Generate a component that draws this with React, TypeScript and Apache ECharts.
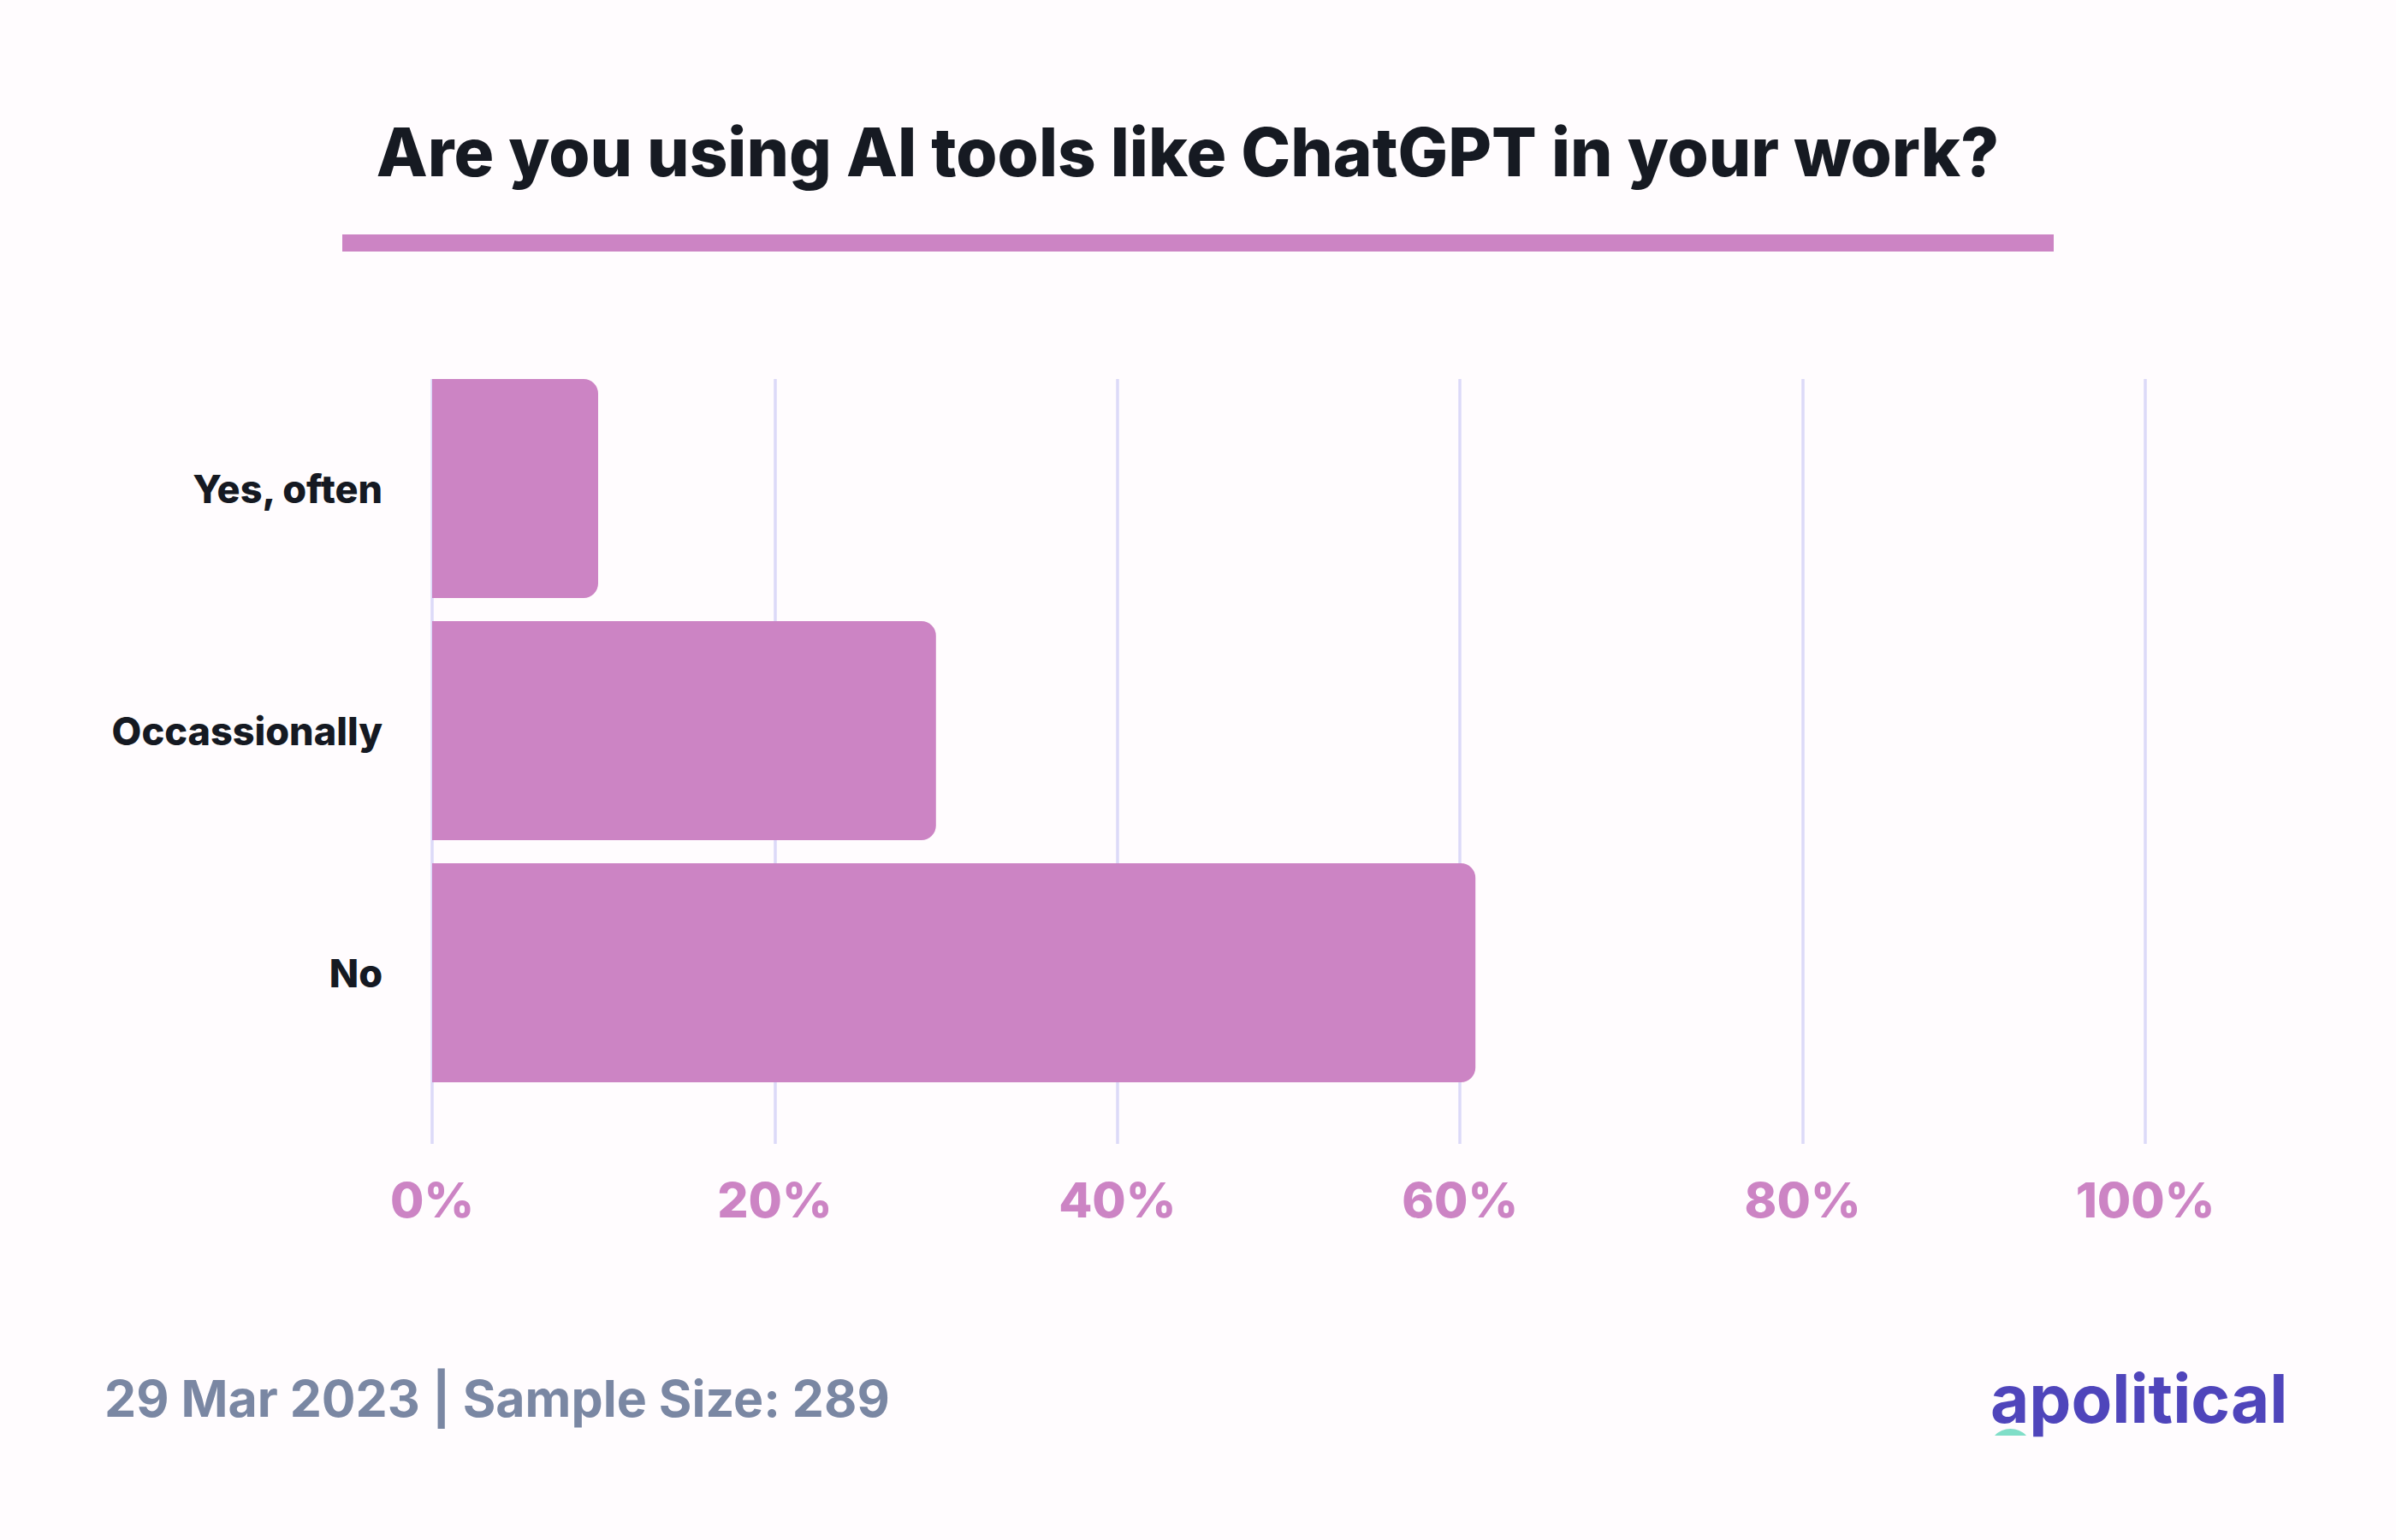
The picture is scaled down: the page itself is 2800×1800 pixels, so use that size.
import React, { useEffect, useRef } from "react";
import * as echarts from "echarts";

const categories = ["Yes, often", "Occassionally", "No"];
const shares = [9.69, 29.41, 60.9];
const tickValues = [0, 20, 40, 60, 80, 100];
const titleText = "Are you using AI tools like ChatGPT in your work?";
const footerText = "29 Mar 2023 | Sample Size: 289";
const logoText = "apolitical";

const PINK = "#cc84c4";
const GRIDC = "#dcdaf8";
const DARK = "#151922";

echarts.graphic.registerShape(
  "logoDome",
  echarts.graphic.extendPath("M0 8 A25.4 25.4 0 0 1 37 8 Z", {})
);

export default function App() {
  const ref = useRef<HTMLDivElement>(null);
  useEffect(() => {
    document.body.style.margin = "0";
    const chart = echarts.init(ref.current!, null, { renderer: "svg" });
    const font = "Inter";
    chart.setOption({
      animation: false,
      backgroundColor: "#fffcfe",
      grid: [
        { left: 505, right: 293, top: 443, bottom: 463 },
        { left: 505, right: 293, top: 429.5, height: 849 },
      ],
      xAxis: [
        {
          gridIndex: 0,
          type: "value",
          min: tickValues[0],
          max: tickValues[tickValues.length - 1],
          interval: 20,
          axisLine: { show: false },
          axisTick: { show: false },
          splitLine: { show: true, lineStyle: { color: GRIDC, width: 3.5 } },
          axisLabel: {
            margin: 37,
            formatter: "{value}%",
            color: PINK,
            fontFamily: font,
            fontWeight: 800,
            fontSize: 57,
          },
        },
        {
          gridIndex: 1,
          type: "value",
          min: 0,
          max: 100,
          show: false,
          splitLine: { show: false },
        },
      ],
      yAxis: [
        { gridIndex: 0, type: "category", data: categories, show: false, inverse: true },
        {
          gridIndex: 1,
          type: "category",
          data: categories,
          inverse: true,
          axisLine: { show: false },
          axisTick: { show: false },
          splitLine: { show: false },
          axisLabel: {
            margin: 58,
            color: DARK,
            fontFamily: font,
            fontWeight: 800,
            fontSize: 45,
          },
        },
      ],
      series: [
        {
          type: "bar",
          xAxisIndex: 1,
          yAxisIndex: 1,
          data: shares,
          barWidth: 256,
          itemStyle: { color: PINK, borderRadius: [0, 17, 17, 0] },
          z: 3,
        },
      ],
      graphic: [
        {
          type: "text",
          x: 1388,
          y: 177,
          style: {
            text: titleText,
            fill: "#161a22",
            font: `800 78px ${font}`,
            align: "center",
            verticalAlign: "middle",
          },
        },
        {
          type: "rect",
          shape: { x: 400, y: 274, width: 2000, height: 20 },
          style: { fill: PINK },
        },
        {
          type: "text",
          x: 122,
          y: 1634,
          style: {
            text: footerText,
            fill: "#7a87a3",
            font: `700 59px ${font}`,
            align: "left",
            verticalAlign: "middle",
          },
        },
        {
          type: "text",
          x: 2326,
          y: 1634,
          style: {
            text: logoText,
            fill: "#4f45bb",
            font: `700 78px ${font}`,
            align: "left",
            verticalAlign: "middle",
          },
        },
        {
          type: "logoDome",
          x: 2331,
          y: 1670,
          scaleX: 1,
          scaleY: 1,
          style: { fill: "#80dec8" },
        },
      ],
    });
    return () => chart.dispose();
  }, []);
  return <div ref={ref} style={{ width: 2800, height: 1800 }} />;
}
